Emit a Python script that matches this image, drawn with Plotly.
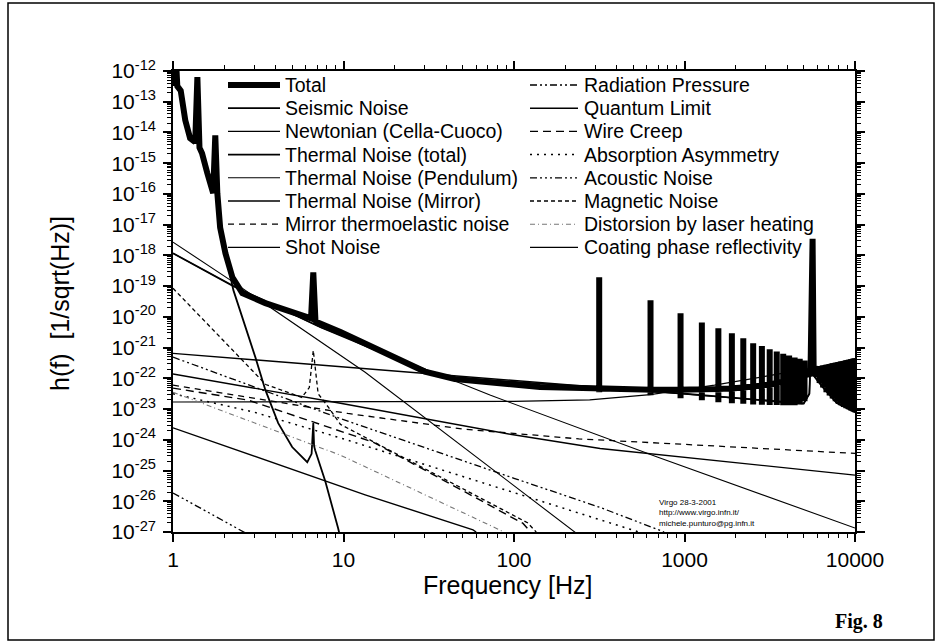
import plotly.graph_objects as go

# ---------------- data (f in Hz, h in 1/sqrt(Hz)) ----------------
# Total: low-frequency part (seismic wall, suspension resonances, thermal floor)
total_low_f = [1.0, 1.015, 1.03, 1.045, 1.06, 1.11, 1.18, 1.26, 1.35, 1.39, 1.43, 1.48, 1.59, 1.72,
               1.77, 1.82, 1.89, 2.03, 2.23, 2.55, 3.48, 5.97, 6.45, 6.65, 6.85, 9.6, 18.8, 30, 45,
               72.4, 142, 291]
total_low_h = [3.3e-13, 1.6e-12, 3.3e-13, 1.6e-12, 3.2e-13, 2.3e-13, 2.5e-14, 6.5e-15, 4.8e-15, 6.3e-13,
               3.2e-15, 2.1e-15, 4.7e-16, 1.07e-16, 8.1e-15, 1.05e-16, 8.1e-18, 1.17e-18, 1.95e-19,
               5.9e-20, 2.8e-20, 1.0e-20, 8.9e-21, 2.8e-19, 7.1e-21, 3.2e-21, 5.6e-22, 1.66e-22,
               9.5e-23, 7.6e-23, 5.2e-23, 4.8e-23]
# Total: violin-mode harmonics (frequency, floor, peak, dip)
violin_f = [316, 632, 948, 1264, 1580, 1896, 2212, 2528, 2844, 3160, 3476, 3792, 4108, 4424, 4740, 5056]
violin_floor = [4.7e-23, 4.27e-23, 4.27e-23, 4.4e-23, 4.5e-23, 4.7e-23, 5.0e-23, 5.4e-23, 5.9e-23,
                6.3e-23, 7.1e-23, 7.9e-23, 8.9e-23, 1.0e-22, 1.12e-22, 1.26e-22]
violin_peak = [1.95e-19, 3.5e-20, 1.3e-20, 6.6e-21, 4.3e-21, 2.95e-21, 2.0e-21, 1.38e-21, 1.12e-21,
               8.9e-22, 7.4e-22, 6.3e-22, 5.5e-22, 4.8e-22, 4.3e-22, 3.8e-22]
violin_dip = [3.5e-23, 2.8e-23, 2.24e-23, 1.95e-23, 1.66e-23, 1.55e-23, 1.48e-23, 1.41e-23, 1.38e-23,
              1.35e-23, 1.35e-23, 1.32e-23, 1.32e-23, 1.32e-23, 1.41e-23, 1.78e-23]
# Total: mirror internal mode
mode_f = [5480, 5560, 5640, 5720]
mode_h = [1.4e-22, 3.5e-18, 3.5e-18, 2.0e-22]
# Total: resonance band above the mirror mode (upper / lower envelope)
wedge_f = [5900, 6200, 6500, 6800, 7100, 7400, 7700, 8000, 8300, 8600, 8900, 9200, 9500, 9800, 10000]
wedge_upper = [2.29e-22, 2.4e-22, 2.51e-22, 2.69e-22, 2.82e-22, 3.02e-22, 3.16e-22, 3.31e-22, 3.47e-22,
               3.63e-22, 3.8e-22, 3.98e-22, 4.17e-22, 4.37e-22, 4.47e-22]
wedge_lower = [1.12e-22, 7.1e-23, 5.0e-23, 3.55e-23, 2.75e-23, 2.19e-23, 1.78e-23, 1.51e-23, 1.32e-23,
               1.17e-23, 1.07e-23, 9.8e-24, 8.9e-24, 8.3e-24, 7.9e-24]

seis_f = [2.03, 2.26, 3.04, 3.48, 4.14, 5.0, 6.13, 6.5, 6.65, 6.72, 6.82, 7.82, 9.3, 9.6]
seis_h = [1.12e-18, 7.4e-20, 4.9e-22, 4.2e-23, 3.5e-24, 5.8e-25, 1.86e-25, 3.5e-25, 3.5e-24, 6.3e-25,
          4.6e-25, 4.5e-26, 1.32e-27, 6.3e-28]

newt_f = [1, 2.26, 13.4, 222, 240]
newt_h = [2.7e-18, 1.35e-19, 1.58e-22, 1.15e-27, 7.9e-28]

therm_f = [1, 2.26, 7.33, 18.8, 30, 45, 100, 300, 1000, 3000, 5000, 5400, 5560, 5640, 5800, 6470, 7820, 10000]
therm_h = [1.17e-18, 1.0e-19, 4.6e-21, 5.2e-22, 1.78e-22, 1.05e-22, 7.6e-23, 5.0e-23, 3.16e-23, 1.9e-23,
           1.51e-23, 3.16e-23, 3.16e-21, 3.16e-21, 1.12e-22, 5.2e-23, 1.58e-23, 7.9e-24]

pend_f = [1, 2.26, 7.33, 72.9, 692, 10000]
pend_h = [1.17e-18, 1.0e-19, 4.6e-21, 2.8e-23, 2.75e-25, 1.35e-27]

mirror_f = [1, 10, 100, 300, 1000, 3000, 5000, 5400, 5560, 5640, 5800, 6470, 7820, 10000]
mirror_h = [6.5e-22, 2.34e-22, 8.5e-23, 5.2e-23, 3.16e-23, 1.9e-23, 1.51e-23, 3.16e-23, 3.16e-21, 3.16e-21,
            1.12e-22, 5.2e-23, 1.58e-23, 7.9e-24]

te_f = [1, 10.6, 50, 240, 1000, 10000]
te_h = [6.0e-23, 7.2e-24, 2.24e-24, 1.07e-24, 7.1e-25, 3.6e-25]

shot_f = [1, 100, 278, 630, 1500, 3000, 5600, 10000]
shot_h = [1.7e-23, 1.78e-23, 2.0e-23, 2.95e-23, 6.0e-23, 1.15e-22, 2.14e-22, 4.37e-22]

rad_f = [1, 10, 100, 320, 760]
rad_h = [4.9e-22, 4.5e-24, 5.6e-26, 6.3e-27, 1.0e-27]

qua_f = [1, 9.6, 95, 320, 10000]
qua_h = [1.38e-22, 1.55e-23, 1.51e-24, 5.2e-25, 7.1e-26]

wc_f = [1, 2.76, 15, 113, 125]
wc_h = [4.8e-23, 1.95e-23, 8.3e-25, 1.9e-27, 1.0e-27]

ab_f = [1, 3, 9.6, 320, 540]
ab_h = [3.16e-23, 7.9e-24, 1.15e-24, 2.45e-27, 1.0e-27]

ac_f = [1, 2.7]
ac_h = [1.86e-26, 8.9e-28]

mag_f = [1, 2, 3.5, 5.7, 6.3, 6.65, 7.1, 8.15, 9.6, 120, 135]
mag_h = [8.5e-20, 1.58e-21, 6.3e-23, 2.4e-23, 5.0e-23, 8.1e-22, 3.16e-23, 1.15e-23, 3.16e-24, 2.0e-27, 1.0e-27]

dist_f = [1, 9.6, 83, 90]
dist_h = [3.5e-23, 3.16e-25, 1.15e-27, 8.9e-28]

coat_f = [1, 13.4, 57.5, 60]
coat_h = [2.45e-24, 1.62e-26, 1.17e-27, 1.0e-27]

x_tick_vals = [1, 10, 100, 1000, 10000]
x_tick_text = ['1', '10', '100', '1000', '10000']
y_tick_exps = [-12, -13, -14, -15, -16, -17, -18, -19, -20, -21, -22, -23, -24, -25, -26, -27]

legend_col1 = ['Total', 'Seismic Noise', 'Newtonian (Cella-Cuoco)', 'Thermal Noise (total)',
               'Thermal Noise (Pendulum)', 'Thermal Noise (Mirror)', 'Mirror thermoelastic noise',
               'Shot Noise']
legend_col2 = ['Radiation Pressure', 'Quantum Limit', 'Wire Creep', 'Absorption Asymmetry',
               'Acoustic Noise', 'Magnetic Noise', 'Distorsion by laser heating',
               'Coating phase reflectivity']

# ---------------- build the total curve from its read-off pieces ----------------
tot_f = list(total_low_f)
tot_h = list(total_low_h)
for f, fl, pk, dp in zip(violin_f, violin_floor, violin_peak, violin_dip):
    tot_f += [f, f, f, f]
    tot_h += [fl, pk, dp, fl]
tot_f += mode_f
tot_h += mode_h
for f, up, lo in zip(wedge_f, wedge_upper, wedge_lower):
    tot_f += [f, f]
    tot_h += [up, lo]

# name -> (x, y, line style); drawing order = list order (Total last, on top)
series = [
    ('Seismic Noise', seis_f, seis_h, dict(width=1.8, dash='solid', color='black')),
    ('Newtonian (Cella-Cuoco)', newt_f, newt_h, dict(width=1.1, dash='solid', color='black')),
    ('Thermal Noise (Pendulum)', pend_f, pend_h, dict(width=1.1, dash='solid', color='black')),
    ('Thermal Noise (Mirror)', mirror_f, mirror_h, dict(width=1.4, dash='solid', color='black')),
    ('Mirror thermoelastic noise', te_f, te_h, dict(width=1.3, dash='6px,5px', color='black')),
    ('Shot Noise', shot_f, shot_h, dict(width=1.2, dash='solid', color='black')),
    ('Radiation Pressure', rad_f, rad_h, dict(width=1.3, dash='7px,3px,2px,3px,2px,3px', color='black')),
    ('Quantum Limit', qua_f, qua_h, dict(width=1.4, dash='solid', color='black')),
    ('Wire Creep', wc_f, wc_h, dict(width=1.4, dash='8px,5px', color='black')),
    ('Absorption Asymmetry', ab_f, ab_h, dict(width=1.5, dash='2px,5px', color='black')),
    ('Acoustic Noise', ac_f, ac_h, dict(width=1.3, dash='7px,3px,2px,3px,2px,3px,2px,3px', color='black')),
    ('Magnetic Noise', mag_f, mag_h, dict(width=1.3, dash='4px,3px', color='black')),
    ('Distorsion by laser heating', dist_f, dist_h, dict(width=1.1, dash='5px,3px,1px,3px', color='#777777')),
    ('Coating phase reflectivity', coat_f, coat_h, dict(width=1.4, dash='solid', color='black')),
    ('Thermal Noise (total)', therm_f, therm_h, dict(width=1.8, dash='solid', color='black')),
    ('Total', tot_f, tot_h, dict(width=6, dash='solid', color='black')),
]
style_of = {name: st for name, _, _, st in series}

fig = go.Figure()
for name, f, h, st in series:
    fig.add_trace(go.Scatter(x=f, y=h, mode='lines', name=name, line=st, showlegend=False,
                             hoverinfo='skip'))

# ---------------- page geometry ----------------
W, H = 937, 642
L, R, T, B = 173, 82, 71, 110
PW, PH = W - L - R, H - T - B


def px(xp):
    return (xp - L) / PW


def py(yp):
    return (H - B - yp) / PH


axis_common = dict(type='log', ticks='outside', ticklen=8, tickwidth=1.5, tickcolor='black',
                   showline=True, linewidth=1.6, linecolor='black', mirror='ticks', showgrid=False,
                   zeroline=False, tickfont=dict(size=21, color='black'),
                   minor=dict(ticks='outside', ticklen=4, tickwidth=1, tickcolor='black',
                              dtick='D1', showgrid=False))

fig.update_xaxes(range=[0, 4], tickvals=x_tick_vals, ticktext=x_tick_text,
                 ticklabelstandoff=0, **axis_common)
fig.update_yaxes(range=[-27, -12], tickvals=[10.0 ** e for e in y_tick_exps],
                 ticktext=['10<sup>%d</sup>' % e for e in y_tick_exps],
                 ticklabelstandoff=3, **axis_common)

# ---------------- legend (two columns, drawn as text + sample strokes) ----------------
shapes = [dict(type='rect', xref='paper', yref='paper', x0=px(8), x1=px(934), y0=py(640), y1=py(3),
               line=dict(color='black', width=1.5), layer='below')]
annotations = []
for col, names in ((0, legend_col1), (1, legend_col2)):
    x_line0, x_line1, x_text = (228, 280, 283) if col == 0 else (530, 578, 582)
    for i, name in enumerate(names):
        yc = 85 + 23.2 * i
        st = style_of[name]
        shapes.append(dict(type='line', xref='paper', yref='paper', x0=px(x_line0), x1=px(x_line1),
                           y0=py(yc), y1=py(yc), line=dict(color=st['color'], width=st['width'],
                                                          dash=st['dash']), layer='above'))
        annotations.append(dict(text=name, xref='paper', yref='paper', x=px(x_text), y=py(yc),
                                xanchor='left', yanchor='middle', showarrow=False,
                                font=dict(size=19.5, color='black')))

annotations += [
    dict(text='h(f)  [1/sqrt(Hz)]', xref='paper', yref='paper', x=px(60), y=py(304),
         textangle=-90, showarrow=False, font=dict(size=25), xanchor='center', yanchor='middle'),
    dict(text='Frequency [Hz]', xref='paper', yref='paper', x=px(508), y=py(585),
         showarrow=False, font=dict(size=25), xanchor='center', yanchor='middle'),
    dict(text='<b>Fig. 8</b>', xref='paper', yref='paper', x=px(859), y=py(621),
         showarrow=False, font=dict(size=20, family='Liberation Serif, Times New Roman, serif'),
         xanchor='center', yanchor='middle'),
    dict(text='Virgo 28-3-2001<br>http://www.virgo.infn.it/<br>michele.punturo@pg.infn.it',
         xref='paper', yref='paper', x=px(657), y=py(513), showarrow=False, align='left',
         font=dict(size=8), xanchor='left', yanchor='middle'),
]

fig.update_layout(
    width=W, height=H, margin=dict(l=L, r=R, t=T, b=B, autoexpand=False),
    paper_bgcolor='white', plot_bgcolor='white',
    font=dict(family='Arial, Liberation Sans, sans-serif', color='black', size=18),
    showlegend=False,
    shapes=shapes,
    annotations=annotations,
)

fig.write_html('out.html', config={'displayModeBar': False},
               post_script="document.body.style.margin='0px';")
